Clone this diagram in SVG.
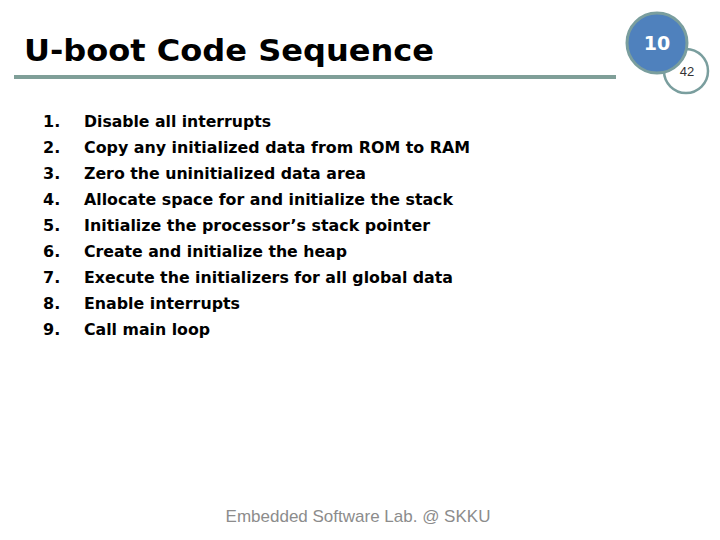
<svg xmlns="http://www.w3.org/2000/svg" width="720" height="540" viewBox="0 0 720 540">
<style>
.t{font-family:"DejaVu Sans",Verdana,sans-serif;font-weight:bold;fill:#000}
.li{font-size:16px}
</style>
<rect width="720" height="540" fill="#fff"/>
<g id="title">
<text class="t" x="24" y="61" font-size="31" textLength="410" lengthAdjust="spacingAndGlyphs">U-boot Code Sequence</text>
<rect x="14" y="75" width="602" height="4" fill="#7f9f98"/>
</g>
<g id="badge">
<circle cx="686" cy="71" r="22" fill="#fff" stroke="#7a9e9e" stroke-width="2.5"/>
<circle cx="657" cy="43" r="30" fill="#4f81bd" stroke="#7a9e9e" stroke-width="3"/>
<text class="t" x="657" y="50" font-size="19" fill="#fff" style="fill:#fff" text-anchor="middle">10</text>
<text x="687" y="76" font-family="'Liberation Sans',Arial,sans-serif" font-size="13" text-anchor="middle" fill="#333">42</text>
</g>
<g id="list" class="t li">
<text class="t li" x="43" y="127">1.</text><text class="t li" x="84" y="127" textLength="187" lengthAdjust="spacingAndGlyphs">Disable all interrupts</text>
<text class="t li" x="43" y="153">2.</text><text class="t li" x="84" y="153" textLength="386" lengthAdjust="spacingAndGlyphs">Copy any initialized data from ROM to RAM</text>
<text class="t li" x="43" y="179">3.</text><text class="t li" x="84" y="179" textLength="282" lengthAdjust="spacingAndGlyphs">Zero the uninitialized data area</text>
<text class="t li" x="43" y="205">4.</text><text class="t li" x="84" y="205" textLength="369" lengthAdjust="spacingAndGlyphs">Allocate space for and initialize the stack</text>
<text class="t li" x="43" y="231">5.</text><text class="t li" x="84" y="231" textLength="346" lengthAdjust="spacingAndGlyphs">Initialize the processor’s stack pointer</text>
<text class="t li" x="43" y="257">6.</text><text class="t li" x="84" y="257" textLength="263" lengthAdjust="spacingAndGlyphs">Create and initialize the heap</text>
<text class="t li" x="43" y="283">7.</text><text class="t li" x="84" y="283" textLength="369" lengthAdjust="spacingAndGlyphs">Execute the initializers for all global data</text>
<text class="t li" x="43" y="309">8.</text><text class="t li" x="84" y="309" textLength="156" lengthAdjust="spacingAndGlyphs">Enable interrupts</text>
<text class="t li" x="43" y="335">9.</text><text class="t li" x="84" y="335" textLength="126" lengthAdjust="spacingAndGlyphs">Call main loop</text>
</g>
<g id="footer">
<text x="358" y="522" font-family="'Liberation Sans',Arial,sans-serif" font-size="17" fill="#8c8c8c" text-anchor="middle">Embedded Software Lab. @ SKKU</text>
</g>
</svg>
